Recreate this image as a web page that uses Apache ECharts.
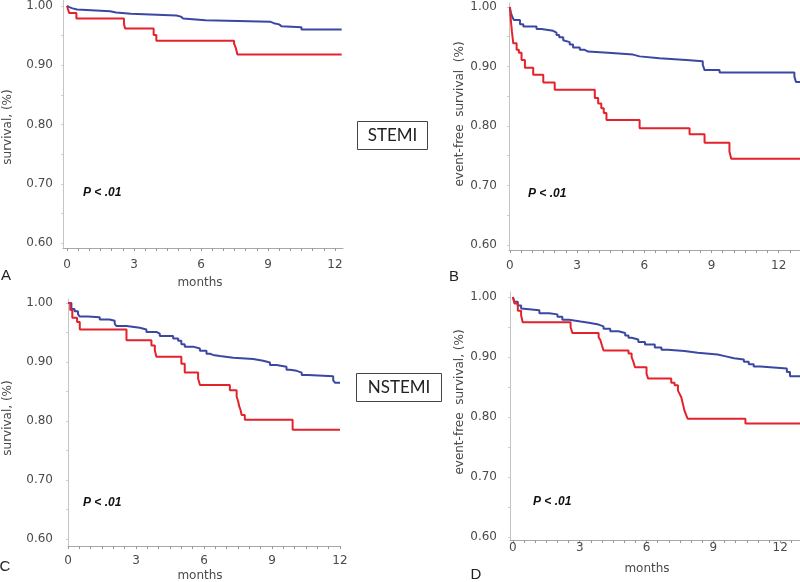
<!DOCTYPE html>
<html>
<head>
<meta charset="utf-8">
<script src="https://cdn.jsdelivr.net/npm/echarts@6/dist/echarts.min.js"></script>
<style>
html,body{margin:0;padding:0;background:#fff;}
#chart{width:800px;height:582px;}
</style>
</head>
<body>
<div id="chart"></div>
<script>
// ---- tick labels ----
const xTicks = [0, 3, 6, 9, 12];
const xMinorTicks = [0, 0.5, 1, 1.5, 2, 2.5, 3, 3.5, 4, 4.5, 5, 5.5, 6, 6.5, 7, 7.5, 8, 8.5, 9, 9.5, 10, 10.5, 11, 11.5, 12, 12.5];
const yTicks = [0.60, 0.70, 0.80, 0.90, 1.00];
const yMinorTicks = [0.60, 0.65, 0.70, 0.75, 0.80, 0.85, 0.90, 0.95, 1.00];

// ---- panel A: STEMI survival [month, survival] ----
const aBlue = [[0,1.0],[0.03,0.998],[0.1,0.996],[0.25,0.994],[0.45,0.991],[1.93,0.989],[2.2,0.987],[2.86,0.984],[4.9,0.982],[5.1,0.979],[5.2,0.976],[6.2,0.9735],[9.1,0.971],[9.26,0.969],[9.5,0.966],[9.6,0.964],[10.5,0.9605],[12.3,0.9605]];
const aRed = [[0,1.0],[0.03,0.996],[0.1,0.988],[0.42,0.979],[2.55,0.970],[2.6,0.962],[3.88,0.951],[4.0,0.9415],[7.48,0.937],[7.56,0.929],[7.63,0.918],[12.3,0.918]];

// ---- panel B: STEMI event-free survival ----
const bBlue = [[0,1.0],[0.02,0.995],[0.05,0.99],[0.1,0.984],[0.18,0.978],[0.45,0.971],[0.6,0.967],[1.19,0.963],[1.41,0.960],[1.93,0.957],[2.08,0.953],[2.2,0.949],[2.38,0.944],[2.45,0.941],[2.67,0.937],[2.82,0.932],[3.12,0.928],[3.34,0.925],[3.49,0.923],[4.38,0.920],[5.5,0.917],[5.79,0.914],[6.68,0.911],[7.87,0.909],[8.61,0.903],[8.69,0.894],[9.36,0.890],[12.7,0.883],[12.77,0.874],[12.95,0.874]];
const bRed = [[0,1.0],[0.04,0.979],[0.09,0.959],[0.15,0.939],[0.3,0.928],[0.4,0.923],[0.52,0.911],[0.67,0.898],[1.04,0.886],[1.49,0.873],[2.0,0.861],[3.79,0.847],[3.94,0.838],[4.08,0.830],[4.19,0.822],[4.31,0.810],[5.79,0.796],[8.02,0.786],[8.69,0.772],[9.8,0.757],[9.88,0.745],[12.95,0.745]];

// ---- panel C: NSTEMI survival ----
const cBlue = [[0,1.0],[0.15,0.99],[0.29,0.986],[0.44,0.981],[0.52,0.977],[0.88,0.976],[1.40,0.972],[1.84,0.970],[2.06,0.965],[2.13,0.961],[2.58,0.958],[3.17,0.955],[3.46,0.951],[3.9,0.948],[4.05,0.944],[4.64,0.940],[4.86,0.936],[5.0,0.930],[5.15,0.926],[5.52,0.923],[5.82,0.919],[6.11,0.914],[6.26,0.912],[6.4,0.910],[6.7,0.907],[7.29,0.905],[8.17,0.902],[8.61,0.899],[8.91,0.895],[9.2,0.892],[9.64,0.887],[9.79,0.885],[10.09,0.882],[10.31,0.878],[10.6,0.876],[11.7,0.869],[11.78,0.865],[12,0.865]];
const cRed = [[0,1.0],[0.1,0.988],[0.19,0.975],[0.4,0.968],[0.52,0.955],[2.58,0.937],[3.68,0.928],[3.83,0.92],[3.9,0.909],[5.0,0.897],[5.15,0.882],[5.74,0.872],[5.82,0.861],[7.14,0.852],[7.44,0.841],[7.51,0.833],[7.55,0.825],[7.61,0.819],[7.66,0.81],[7.8,0.802],[9.91,0.785],[12,0.785]];

// ---- panel D: NSTEMI event-free survival ----
const dBlue = [[0,1.0],[0.07,0.992],[0.22,0.986],[0.37,0.981],[0.44,0.978],[1.19,0.973],[1.63,0.971],[2.0,0.967],[2.22,0.962],[2.52,0.959],[3.04,0.957],[3.41,0.954],[3.85,0.951],[4.07,0.947],[4.37,0.943],[4.74,0.94],[5.04,0.936],[5.19,0.932],[5.33,0.929],[5.63,0.925],[5.93,0.921],[6.37,0.916],[6.67,0.912],[6.96,0.91],[7.7,0.907],[8.3,0.904],[9.19,0.901],[9.56,0.898],[9.93,0.896],[10.37,0.892],[10.59,0.888],[10.81,0.884],[11.11,0.881],[12.3,0.875],[12.44,0.868],[12.9,0.868]];
const dRed = [[0,1.0],[0.07,0.989],[0.22,0.977],[0.37,0.969],[0.44,0.958],[2.59,0.95],[2.67,0.94],[3.85,0.933],[3.93,0.928],[4.0,0.919],[4.07,0.911],[5.19,0.906],[5.33,0.9],[5.41,0.892],[5.48,0.883],[6.0,0.872],[6.07,0.864],[7.11,0.857],[7.26,0.853],[7.41,0.844],[7.48,0.839],[7.56,0.833],[7.63,0.822],[7.7,0.811],[7.78,0.803],[7.85,0.797],[10.44,0.789],[12.9,0.789]];

const BLUE = '#3a48a2';
const RED = '#e3222b';
const AXIS_GRAY = '#a8a8a8';
const LABEL_GRAY = '#4a4a4a';
const FONT = 'DejaVu Sans, Verdana, sans-serif';

// panel layout (pixels)
const panels = [
  {left:63, top:0, width:280, height:248, xmin:-0.18, xmax:12.36, ymin:0.5916, ymax:1.0101, xm:11, ym:10, blue:aBlue, red:aRed},
  {left:509, top:3, width:291, height:247, xmin:-0.04, xmax:12.95, ymin:0.5916, ymax:1.0067, xm:10, ym:12, blue:bBlue, red:bRed},
  {left:68, top:299, width:272, height:247, xmin:0, xmax:12, ymin:0.588, ymax:1.0068, xm:9, ym:15, blue:cBlue, red:cRed},
  {left:510, top:292, width:290, height:248, xmin:-0.13, xmax:12.89, ymin:0.595, ymax:1.0083, xm:2, ym:13, blue:dBlue, red:dRed}
];

const grid = [], xAxis = [], yAxis = [], series = [];
panels.forEach((p, i) => {
  grid.push({left:p.left, top:p.top, width:p.width, height:p.height, containLabel:false, outerBoundsMode:'none', show:false});
  xAxis.push({
    type:'value', gridIndex:i, min:p.xmin, max:p.xmax,
    axisLine:{show:true, onZero:false, lineStyle:{color:AXIS_GRAY, width:1}},
    axisTick:{show:true, customValues:xMinorTicks, length:3, lineStyle:{color:'#999'}},
    axisLabel:{customValues:xTicks, margin:p.xm, color:LABEL_GRAY, fontFamily:FONT, fontSize:12, formatter:v => String(Math.round(v))},
    splitLine:{show:false}
  });
  yAxis.push({
    type:'value', gridIndex:i, min:p.ymin, max:p.ymax,
    axisLine:{show:true, onZero:false, lineStyle:{color:'#c4c4c4', width:1}},
    axisTick:{show:true, customValues:yMinorTicks, length:2, lineStyle:{color:'#d0d0d0'}},
    axisLabel:{customValues:yTicks, margin:p.ym, color:LABEL_GRAY, fontFamily:FONT, fontSize:12, formatter:v => v.toFixed(2)},
    splitLine:{show:false}
  });
  series.push({type:'line', xAxisIndex:i, yAxisIndex:i, step:'end', data:p.blue, showSymbol:false, symbol:'none', clip:true, lineStyle:{color:BLUE, width:2}, silent:true, animation:false});
  series.push({type:'line', xAxisIndex:i, yAxisIndex:i, step:'end', data:p.red, showSymbol:false, symbol:'none', clip:true, lineStyle:{color:RED, width:2}, silent:true, animation:false});
});

function txt(x, y, text, opts) {
  opts = opts || {};
  return {
    type:'text', x:x, y:y, rotation:opts.rot || 0, z:100,
    style:{text:text, x:0, y:0, align:opts.align || 'center', verticalAlign:'middle',
      font:(opts.font || ('12px ' + FONT)), fill:opts.fill || LABEL_GRAY}
  };
}
const R = Math.PI / 2;
const LETTER = '15px Liberation Sans, Arial, sans-serif';
const PFONT = 'italic bold 12px Liberation Sans, Arial, sans-serif';
const BOXFONT = '17px Lato, Open Sans, sans-serif';
const graphic = [
  // y-axis titles
  txt(8, 127, 'survival, (%)', {rot:R}),
  txt(460, 114, 'event-free  survival  (%)', {rot:R}),
  txt(8, 418, 'survival, (%)', {rot:R}),
  txt(460, 402, 'event-free  survival, (%)', {rot:R}),
  // x-axis titles
  txt(200, 283, 'months'),
  txt(200, 576, 'months'),
  txt(647, 569, 'months'),
  // panel letters
  txt(6, 276, 'A', {font:LETTER, fill:'#222'}),
  txt(454, 277, 'B', {font:LETTER, fill:'#222'}),
  txt(5, 567, 'C', {font:LETTER, fill:'#222'}),
  txt(476, 575, 'D', {font:LETTER, fill:'#222'}),
  // P values
  txt(83, 193, 'P < .01', {align:'left', font:PFONT, fill:'#111'}),
  txt(528, 194, 'P < .01', {align:'left', font:PFONT, fill:'#111'}),
  txt(83, 503, 'P < .01', {align:'left', font:PFONT, fill:'#111'}),
  txt(533, 502, 'P < .01', {align:'left', font:PFONT, fill:'#111'}),
  // boxes
  {type:'rect', z:99, shape:{x:357.5, y:121.5, width:70, height:28}, style:{fill:'#fff', stroke:'#444', lineWidth:1}},
  txt(392.5, 135.5, 'STEMI', {font:BOXFONT, fill:'#222'}),
  {type:'rect', z:99, shape:{x:356.5, y:373.5, width:85, height:28}, style:{fill:'#fff', stroke:'#444', lineWidth:1}},
  txt(399, 387.5, 'NSTEMI', {font:BOXFONT, fill:'#222'})
];

const chart = echarts.init(document.getElementById('chart'), null, {renderer:'canvas'});
chart.setOption({animation:false, backgroundColor:'#fff', grid, xAxis, yAxis, series, graphic});
</script>
</body>
</html>
